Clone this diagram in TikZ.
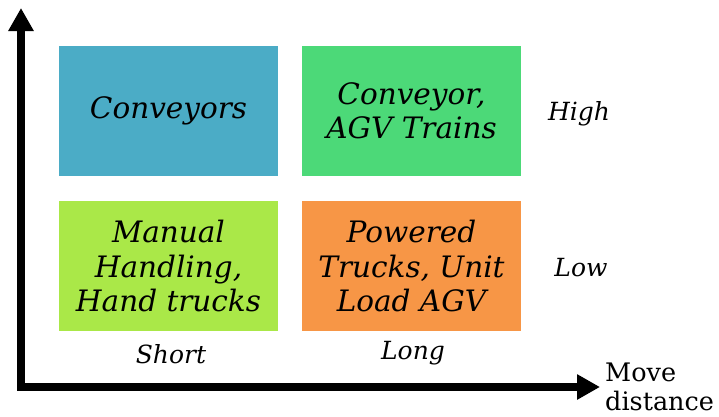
\documentclass[tikz,border=0pt]{standalone}
\usepackage{fontspec}
\setmainfont{DejaVu Serif}
\usetikzlibrary{arrows.meta}
\definecolor{cblue}{RGB}{75,172,198}
\definecolor{cgreen}{RGB}{76,217,120}
\definecolor{clime}{RGB}{170,232,72}
\definecolor{corange}{RGB}{247,150,70}
\begin{document}
\begin{tikzpicture}[x=1pt,y=-1pt,
  cell/.style={minimum width=219pt,minimum height=130pt,inner sep=0pt,align=center,
    font=\fontsize{29.5}{34.5}\selectfont\itshape},
  lab/.style={font=\fontsize{25}{30}\selectfont\itshape,inner sep=0pt},
  axis/.style={line width=8pt,line join=miter,
    {Triangle[width=24pt,length=23pt]}-{Triangle[width=24pt,length=23pt]}}]
\useasboundingbox (0,0) rectangle (719,416);
\node[cell,fill=cblue] (conv) at (168.5,111) {Conveyors};
\node[cell,fill=cgreen] (agv) at (411.5,111) {Conveyor,\\AGV Trains};
\node[cell,fill=clime] (man) at (168.5,266) {Manual\\Handling,\\Hand trucks};
\node[cell,fill=corange] (pow) at (411.5,266) {Powered\\Trucks, Unit\\Load AGV};
\node[lab] (high) at (579,114) {High};
\node[lab] (low) at (581,268) {Low};
\node[lab] (short) at (171,354) {Short};
\node[lab] (long) at (413,353) {Long};
\coordinate (ytop) at (21,8);
\coordinate (xend) at (600,387);
\draw[axis] (ytop) |- (xend);
\node[font=\fontsize{25.5}{29.5}\selectfont,align=left,anchor=west,inner sep=0pt] (md) at (605,387) {Move\\distance};
\end{tikzpicture}
\end{document}
